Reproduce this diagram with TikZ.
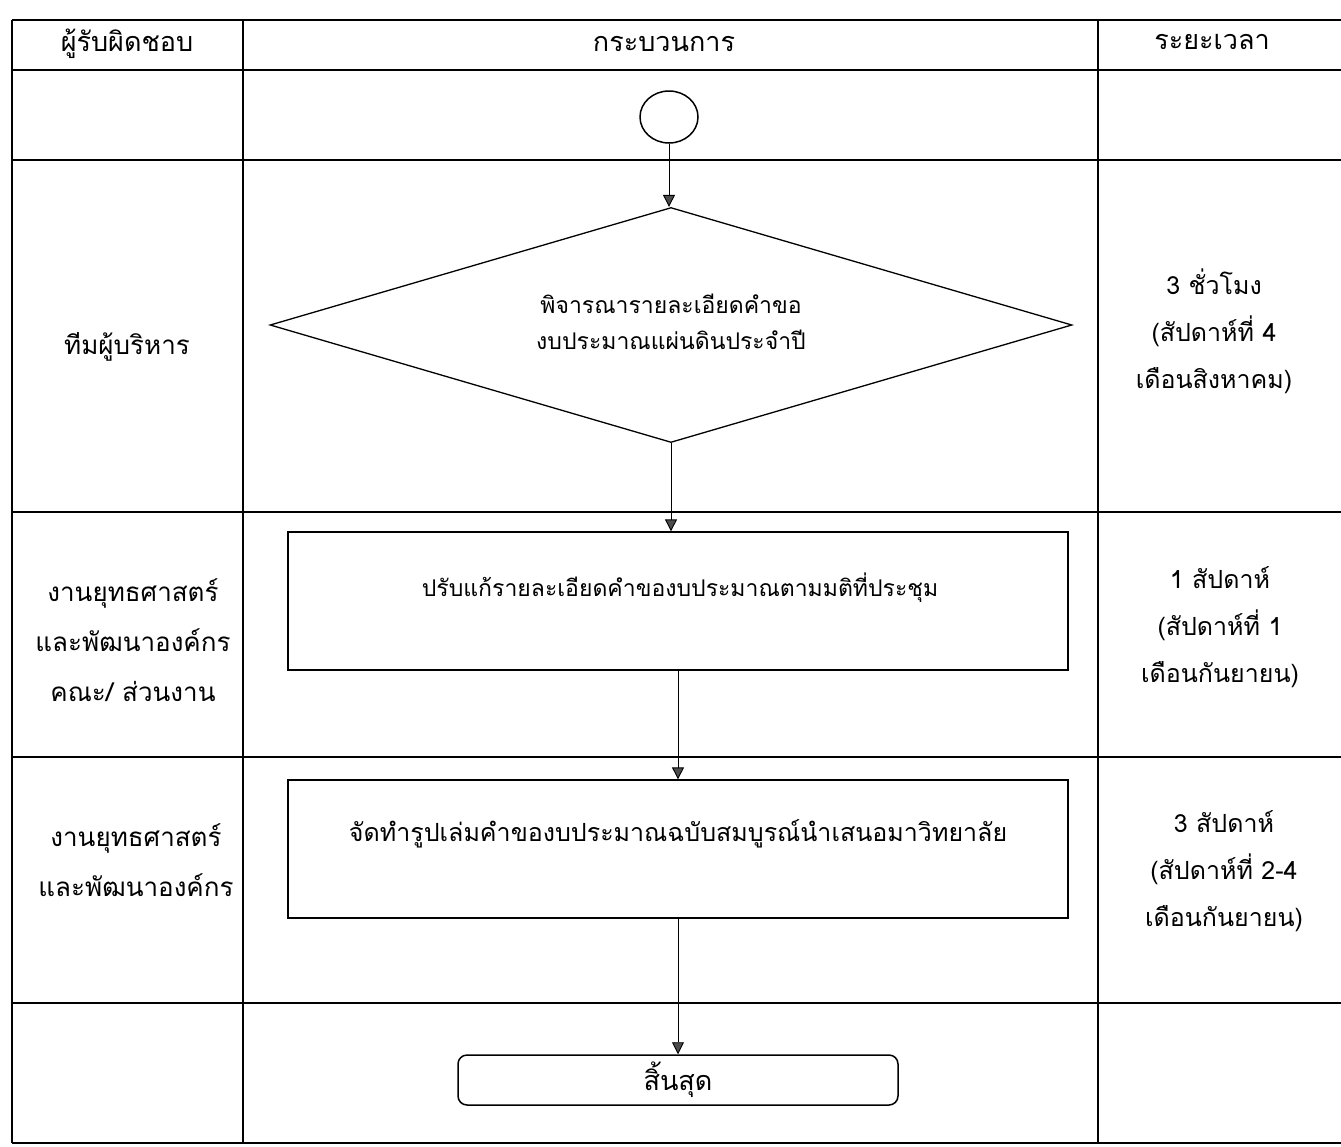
\documentclass[tikz,border=0pt]{standalone}
\usepackage{fontspec}
\newfontfamily\thaifont[Script=Thai]{Loma}
\usetikzlibrary{arrows.meta,shapes.geometric}

\begin{document}
\begin{tikzpicture}[x=1pt,y=-1pt,
  every node/.style={font=\thaifont\fontsize{25}{48}\selectfont, align=center, inner sep=0pt},
  grid/.style={line width=1.8pt},
  procbox/.style={draw, line width=1.3pt, minimum width=780pt, minimum height=138pt},
  decbox/.style={draw, diamond, line width=1.3pt, minimum width=802pt, minimum height=235pt},
  startbox/.style={draw, ellipse, line width=1.5pt, minimum width=58pt, minimum height=52pt},
  endbox/.style={draw, rounded corners=9pt, line width=1.5pt, minimum width=440pt, minimum height=50pt, font=\thaifont\fontsize{27}{30}\selectfont},
  flow/.style={line width=0.9pt, -{Triangle[width=12pt,length=12pt,fill=gray!60!black]}},
  headtxt/.style={font=\thaifont\fontsize{27}{30}\selectfont},
  lanetxt/.style={font=\thaifont\fontsize{26}{50}\selectfont},
  timetxt/.style={font=\thaifont\fontsize{25}{47}\selectfont},
  difftxt/.style={font=\thaifont\fontsize{23}{36}\selectfont}]

\useasboundingbox (0,0) rectangle (1341,1146);

% swimlane table
\draw[grid] (12,20) -- (1341,20);
\draw[grid] (12,70) -- (1341,70);
\draw[grid] (12,160) -- (1341,160);
\draw[grid] (12,512) -- (1341,512);
\draw[grid] (12,757) -- (1341,757);
\draw[grid] (12,1003) -- (1341,1003);
\draw[grid] (12,1143) -- (1341,1143);
\draw[grid] (12,20) -- (12,1143);
\draw[line width=1.2pt] (243,20) -- (243,1143);
\draw[line width=1.2pt] (1098,20) -- (1098,1143);

% header
\node[headtxt] (h1) at (127,44) {ผู้รับผิดชอบ};
\node[headtxt] (h2) at (664,44) {กระบวนการ};
\node[headtxt] (h3) at (1212,42) {ระยะเวลา};

% responsible units
\node[lanetxt] (r1) at (127,347) {ทีมผู้บริหาร};
\node[lanetxt] (r2) at (133,640) {งานยุทธศาสตร์\\และพัฒนาองค์กร\\คณะ/ ส่วนงาน};
\node[lanetxt] (r3) at (136,860) {งานยุทธศาสตร์\\และพัฒนาองค์กร};

% durations
\node[timetxt] (t1) at (1214,331) {3 ชั่วโมง\\(สัปดาห์ที่ 4\\เดือนสิงหาคม)};
\node[timetxt] (t2) at (1220,627) {1 สัปดาห์\\(สัปดาห์ที่ 1\\เดือนกันยายน)};
\node[timetxt] (t3) at (1224,871) {3 สัปดาห์\\(สัปดาห์ที่ 2-4\\เดือนกันยายน)};

% process flow
\node[startbox] (start) at (669,117) {};
\node[decbox] (review) at (671,325) {};
\node[difftxt] (reviewtxt) at (671,322) {พิจารณารายละเอียดคำขอ\\งบประมาณแผ่นดินประจำปี};
\node[procbox] (revise) at (678,601) {};
\node[font=\thaifont\fontsize{23}{26}\selectfont] (revisetxt) at (680,588) {ปรับแก้รายละเอียดคำของบประมาณตามมติที่ประชุม};
\node[procbox] (compile) at (678,849) {};
\node (compiletxt) at (678,834) {จัดทำรูปเล่มคำของบประมาณฉบับสมบูรณ์นำเสนอมาวิทยาลัย};
\node[endbox] (finish) at (678,1080) {สิ้นสุด};

\draw[flow] (start.south) -- (start.south |- review.north);
\draw[flow] (review.south) -- (review.south |- revise.north);
\draw[flow] (revise.south) -- (compile.north);
\draw[flow] (compile.south) -- (finish.north);

\end{tikzpicture}
\end{document}
